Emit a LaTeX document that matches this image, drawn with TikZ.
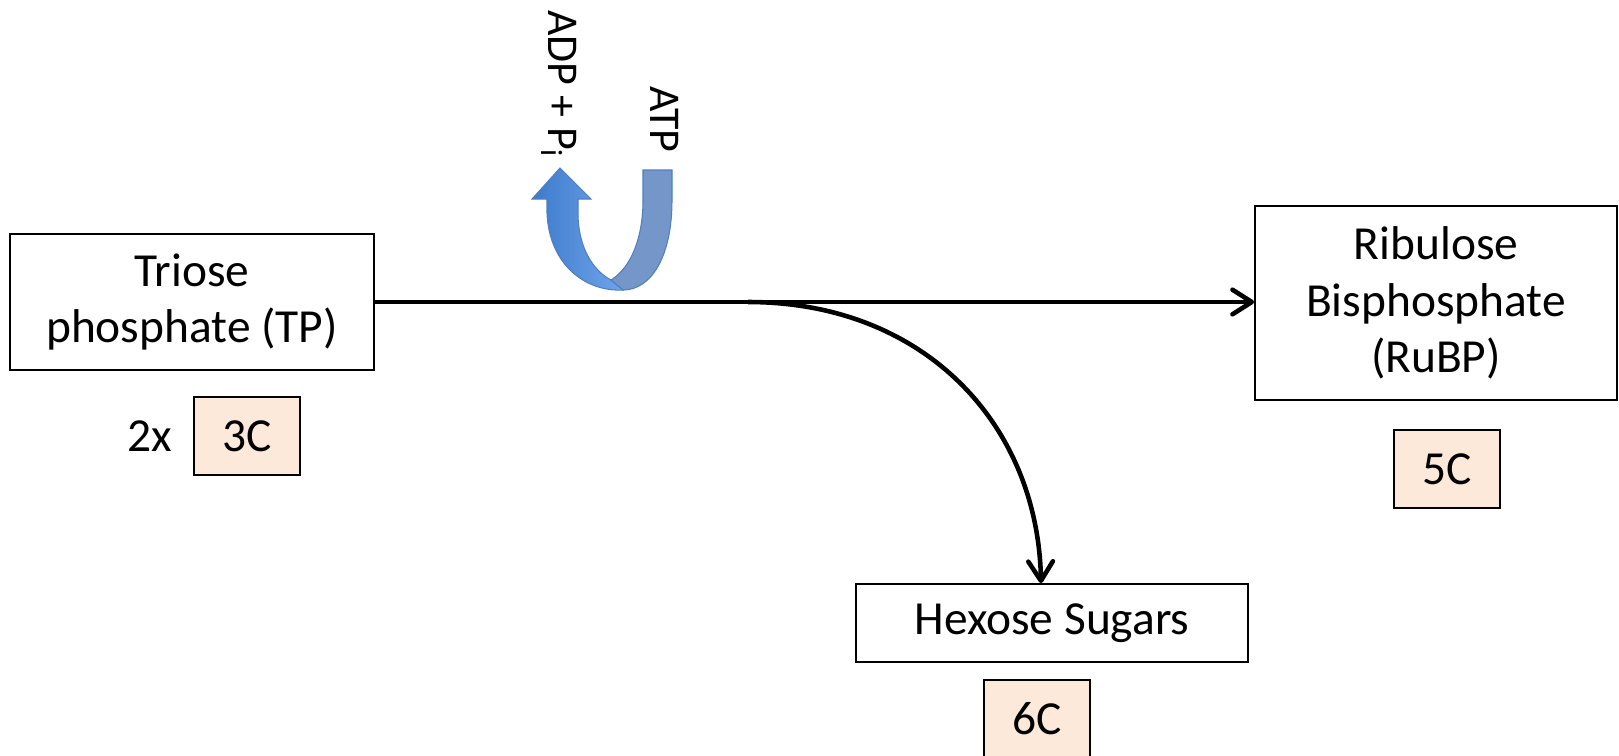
\documentclass[tikz,border=0pt]{standalone}
\usepackage{fontspec}
\setmainfont{Carlito}
\usepackage{xcolor}
\usetikzlibrary{positioning,arrows.meta}

\definecolor{peach}{HTML}{FCE9DA}
\definecolor{adpdark}{HTML}{3C7BCB}
\definecolor{adplight}{HTML}{70A4EC}
\definecolor{atpribbon}{HTML}{7596C8}
\definecolor{ribbonedge}{HTML}{4F7FC0}

\begin{document}
\begin{tikzpicture}[x=0.02cm, y=-0.02cm,
        >={Straight Barb[length=11pt,width=14pt,line cap=round,line join=round]},
        box/.style={draw, line width=1.1pt, align=center, inner sep=0pt, font=\fontsize{27}{32}\selectfont},
        carbon/.style={box, fill=peach, minimum width=2.12cm, minimum height=1.56cm},
        chem/.style={inner sep=0pt, rotate=-90, anchor=base west, font=\fontsize{25}{30}\selectfont},
        flow/.style={->, line width=2.6pt}]
    \useasboundingbox (0,0) rectangle (1619,755);

    % molecules
    \node [box, minimum width=7.28cm, minimum height=2.72cm] (tp) at (192,302) {Triose\\phosphate (TP)};
    \node [box, minimum width=7.24cm, minimum height=3.88cm] (rubp) at (1436,303) {Ribulose\\Bisphosphate\\(RuBP)};
    \node [box, minimum width=7.84cm, minimum height=1.56cm] (hex) at (1052,623) {Hexose Sugars};

    % carbon counts
    \node [carbon] (c3) at (247,436) {3C};
    \node [box, draw=none, left=0.4cm of c3] (twice) {2x};
    \node [carbon, below=0.56cm of rubp, xshift=0.22cm] (c5) {5C};
    \node [carbon, below=0.32cm of hex, xshift=-0.3cm] (c6) {6C};

    % ATP used on the way
    \path[draw=ribbonedge, line width=0.6pt, left color=adpdark, right color=adplight]
        (611,280) .. controls (592,270) and (578,246) .. (578,213) -- (578,199) -- (591,199)
        -- (560,168) -- (532,199) -- (547,199) -- (547,213)
        .. controls (549,264) and (585,292) .. (623,290) -- cycle;
    \path[draw=ribbonedge, line width=0.6pt, fill=atpribbon]
        (643,170) -- (672,170) -- (672,200) .. controls (672,257) and (651,290) .. (623,290)
        -- (611,280) .. controls (632,267) and (643,236) .. (643,200) -- cycle;
    \node [chem] (adp) at (548,10) {ADP + P\textsubscript{i}};
    \node [chem] (atp) at (650,86) {ATP};

    % TP goes on to RuBP, some branches off to hexose
    \draw[flow] (tp.east) -- (tp.east -| rubp.west);
    \coordinate (split) at (748,302);
    \draw[flow] (split) .. controls (925,302) and (1038,425) .. ([xshift=-0.22cm]hex.north);
\end{tikzpicture}
\end{document}
